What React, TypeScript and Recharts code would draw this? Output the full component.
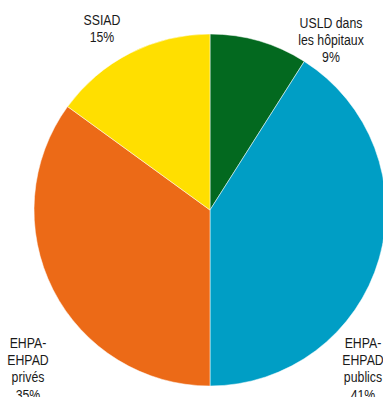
import { PieChart, Pie, Cell } from "recharts";

const categories = ["USLD dans les hôpitaux", "EHPA-EHPAD publics", "EHPA-EHPAD privés", "SSIAD"];
const shares = [9, 41, 35, 15];
const labelLines = [
  ["USLD dans", "les hôpitaux"],
  ["EHPA-", "EHPAD", "publics"],
  ["EHPA-", "EHPAD", "privés"],
  ["SSIAD"],
];

const COLORS = ["#03691F", "#009EC5", "#EC6A17", "#FFDF00"];

// where each label's first line sits, relative to the pie centre
const LABEL_POS = [
  { dx: 121, dy: -182.5 },
  { dx: 153, dy: 137.5 },
  { dx: -182, dy: 137.5 },
  { dx: -108, dy: -185.5 },
];

const data = categories.map((name, i) => ({ name, value: shares[i] }));

function SliceLabel(props: any) {
  const { cx, cy, index, value } = props;
  const pos = LABEL_POS[index];
  const lines = [...labelLines[index], `${value}%`];
  return (
    <text
      transform={`translate(${cx + pos.dx},${cy + pos.dy}) scale(0.82,1)`}
      textAnchor="middle"
      fill="#1a1a1a"
      fontSize={15}
      fontFamily="'Liberation Sans', Arial, sans-serif"
    >
      {lines.map((l, i) => (
        <tspan key={i} x={0} dy={i === 0 ? 0 : 17.5}>
          {l}
        </tspan>
      ))}
    </text>
  );
}

export default function App() {
  return (
    <div style={{ position: "absolute", left: 0, top: 0, background: "#fff" }}>
      <PieChart width={383} height={397} margin={{ top: 0, right: 0, bottom: 0, left: 0 }}>
        <Pie
          data={data}
          dataKey="value"
          nameKey="name"
          cx={210}
          cy={210}
          outerRadius={176}
          startAngle={90}
          endAngle={-270}
          stroke="#ffffff"
          strokeWidth={0.5}
          label={SliceLabel}
          labelLine={false}
          isAnimationActive={false}
        >
          {data.map((d, i) => (
            <Cell key={d.name} fill={COLORS[i]} />
          ))}
        </Pie>
      </PieChart>
    </div>
  );
}
